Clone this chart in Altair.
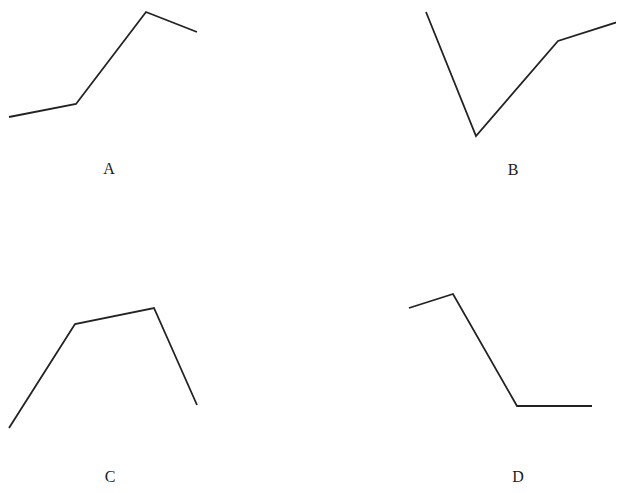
import altair as alt
import pandas as pd

# Polyline vertices per panel (x, y in picture units, y grows downward)
panels = ["A", "B", "C", "D"]
xs = {
    "A": [9, 76, 146, 197],
    "B": [426, 476, 558, 624],
    "C": [9, 75, 154, 197],
    "D": [409, 453, 517, 592],
}
ys = {
    "A": [117, 104, 12, 32],
    "B": [12, 136, 41, 20],
    "C": [428, 324, 308, 405],
    "D": [308, 294, 406, 406],
}
label_x = [109, 513, 110, 518]
label_y = [169, 170, 477, 477]

rows = []
for p in panels:
    for i, (x, y) in enumerate(zip(xs[p], ys[p])):
        rows.append({"panel": p, "order": i, "x": x, "y": y})
lines_df = pd.DataFrame(rows)
labels_df = pd.DataFrame({"label": panels, "x": label_x, "y": label_y})

xscale = alt.Scale(domain=[8, 616], nice=False, zero=False)
yscale = alt.Scale(domain=[8, 485], nice=False, zero=False, reverse=True)

lines = alt.Chart(lines_df).mark_line(color="#222222", strokeWidth=1.8, clip=False).encode(
    x=alt.X("x:Q", scale=xscale, axis=None),
    y=alt.Y("y:Q", scale=yscale, axis=None),
    detail="panel:N",
    order="order:Q",
)

labels = alt.Chart(labels_df).mark_text(
    font="Liberation Serif", fontSize=16, color="#1a1a1a", baseline="middle", align="center"
).encode(
    x=alt.X("x:Q", scale=xscale, axis=None),
    y=alt.Y("y:Q", scale=yscale, axis=None),
    text="label:N",
)

chart = (lines + labels).properties(
    width=608, height=477, padding=0, background="white",
    autosize=alt.AutoSizeParams(type="none"),
).configure_view(stroke=None)

chart.save("out.html", embed_options={"renderer": "svg", "actions": False})
